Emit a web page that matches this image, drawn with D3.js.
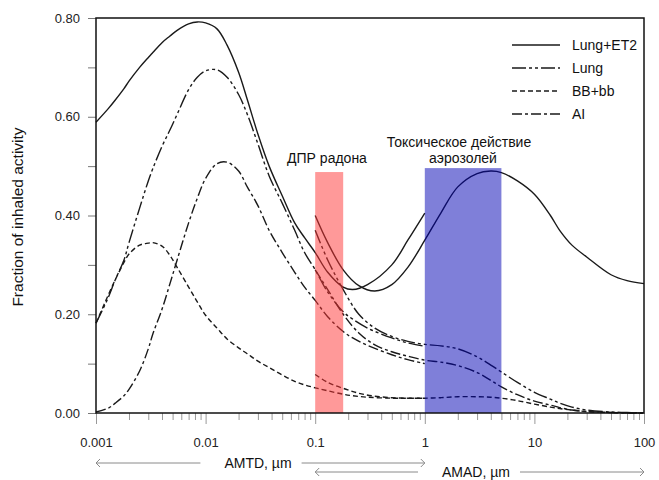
<!DOCTYPE html>
<html>
<head>
<meta charset="utf-8">
<script src="https://cdn.jsdelivr.net/npm/d3@7"></script>
<style>
  html, body { margin: 0; padding: 0; background: #fff; }
  svg { display: block; font-family: "Liberation Sans", Arial, sans-serif; }
</style>
</head>
<body>
<svg id="chart" width="659" height="480"></svg>
<script>
// Deposition fractions vs particle diameter (µm).
// AMTD curves: thermodynamic diameter range 0.001–1 µm.
const amtdDiam = [0.001, 0.0013, 0.0015, 0.0018, 0.002, 0.0025, 0.003, 0.0033, 0.004, 0.0047, 0.0055, 0.007, 0.0084, 0.01, 0.0127, 0.0157, 0.02, 0.024, 0.03, 0.038, 0.05, 0.065, 0.08, 0.1, 0.13, 0.18, 0.22, 0.3, 0.5, 0.7, 1.0];
const amtdLungET2 = [0.589, 0.617, 0.634, 0.657, 0.672, 0.70, 0.72, 0.73, 0.75, 0.763, 0.775, 0.788, 0.792, 0.79, 0.778, 0.745, 0.69, 0.635, 0.565, 0.50, 0.44, 0.385, 0.355, 0.325, 0.285, 0.255, 0.25, 0.26, 0.30, 0.35, 0.405];
const amtdLung    = [0.182, 0.235, 0.27, 0.31, 0.345, 0.415, 0.47, 0.495, 0.54, 0.572, 0.605, 0.655, 0.68, 0.693, 0.695, 0.68, 0.645, 0.605, 0.545, 0.48, 0.425, 0.37, 0.325, 0.29, 0.245, 0.205, 0.19, 0.172, 0.152, 0.142, 0.135];
const amtdBBbb    = [0.182, 0.24, 0.27, 0.305, 0.322, 0.34, 0.344, 0.345, 0.338, 0.32, 0.295, 0.255, 0.225, 0.198, 0.172, 0.15, 0.132, 0.12, 0.105, 0.092, 0.077, 0.064, 0.057, 0.051, 0.045, 0.038, 0.035, 0.032, 0.03, 0.03, 0.03];
const amtdAI      = [0.002, 0.01, 0.02, 0.035, 0.048, 0.085, 0.13, 0.16, 0.21, 0.26, 0.31, 0.385, 0.435, 0.475, 0.505, 0.508, 0.49, 0.458, 0.42, 0.37, 0.325, 0.285, 0.255, 0.228, 0.195, 0.165, 0.152, 0.137, 0.118, 0.108, 0.10];

// AMAD curves: aerodynamic diameter range 0.1–100 µm.
const amadDiam = [0.1, 0.13, 0.18, 0.25, 0.35, 0.5, 0.7, 1.0, 1.4, 2.0, 3.0, 4.0, 5.0, 7.0, 10, 14, 17, 22, 30, 50, 70, 100];
const amadLungET2 = [0.40, 0.345, 0.29, 0.258, 0.247, 0.26, 0.295, 0.35, 0.405, 0.458, 0.485, 0.49, 0.487, 0.47, 0.443, 0.40, 0.37, 0.34, 0.316, 0.28, 0.268, 0.262];
const amadLung    = [0.37, 0.31, 0.25, 0.20, 0.172, 0.155, 0.145, 0.139, 0.136, 0.13, 0.114, 0.097, 0.083, 0.062, 0.042, 0.028, 0.02, 0.012, 0.006, 0.002, 0.001, 0.0];
const amadBBbb    = [0.078, 0.062, 0.05, 0.04, 0.034, 0.031, 0.03, 0.03, 0.031, 0.033, 0.033, 0.032, 0.03, 0.025, 0.018, 0.012, 0.009, 0.006, 0.003, 0.001, 0.0, 0.0];
const amadAI      = [0.29, 0.25, 0.20, 0.162, 0.138, 0.124, 0.115, 0.107, 0.103, 0.096, 0.082, 0.066, 0.053, 0.037, 0.024, 0.016, 0.011, 0.006, 0.003, 0.001, 0.0, 0.0];

// Highlighted diameter bands: [from, to, height]
const bandRadon = [0.1, 0.18, 0.488];
const bandToxic = [1.0, 5.0, 0.496];

const seriesNames = ["Lung+ET2", "Lung", "BB+bb", "AI"];
const seriesDash  = [null, "14,3,3,3,3,3", "5,3", "10,3,3,3"];

const xTickLabels = ["0.001", "0.01", "0.1", "1", "10", "100"];
const yTickValues = [0, 0.1, 0.2, 0.3, 0.4, 0.5, 0.6, 0.7, 0.8];

const svg = d3.select("#chart");
const plotL = 96, plotR = 644, plotT = 18, plotB = 413;

const x = d3.scaleLog().domain([0.001, 100]).range([plotL, plotR]);
const y = d3.scaleLinear().domain([0, 0.8]).range([plotB, plotT]);

// Y axis
const yAxis = d3.axisLeft(y)
  .tickValues(yTickValues)
  .tickSize(8)
  .tickPadding(8)
  .tickFormat(v => (Math.round(v * 10) % 2 === 0) ? d3.format(".2f")(v) : "");
const gy = svg.append("g").attr("transform", `translate(${plotL},0)`).call(yAxis);
gy.select(".domain").remove();
gy.selectAll(".tick line").attr("stroke", "#777");
gy.selectAll(".tick text").attr("font-size", 13).attr("fill", "#222")
  .attr("font-family", "Liberation Sans, Arial, sans-serif");

// X axis with log minor ticks
const majors = xTickLabels.map(Number);
const minors = [];
majors.slice(0, -1).forEach(m => { for (let k = 2; k <= 9; k++) minors.push(m * k); });
const isMajor = v => majors.some(m => Math.abs(m - v) / m < 1e-9);
const xAxis = d3.axisBottom(x)
  .tickValues(majors.concat(minors))
  .tickSize(7)
  .tickPadding(0)
  .tickFormat(v => {
    const i = majors.findIndex(m => Math.abs(m - v) / m < 1e-9);
    return i >= 0 ? xTickLabels[i] : "";
  });
const gx = svg.append("g").attr("transform", `translate(0,${plotB})`).call(xAxis);
gx.select(".domain").remove();
gx.selectAll(".tick line").attr("stroke", "#999");
gx.selectAll(".tick").filter(d => isMajor(d)).select("line").attr("y2", 11);
gx.selectAll(".tick text").attr("font-size", 13).attr("fill", "#222")
  .attr("y", 25).attr("dy", "0.71em")
  .attr("font-family", "Liberation Sans, Arial, sans-serif");

// Curves
const line = d3.line()
  .x(d => x(d[0]))
  .y(d => y(d[1]))
  .curve(d3.curveCatmullRom.alpha(0.5));

const amtdSeries = [amtdLungET2, amtdLung, amtdBBbb, amtdAI];
const amadSeries = [amadLungET2, amadLung, amadBBbb, amadAI];
const curves = svg.append("g").attr("fill", "none").attr("stroke", "#1a1a1a").attr("stroke-width", 1.4);
amtdSeries.forEach((vals, i) => {
  curves.append("path")
    .attr("d", line(amtdDiam.map((d, j) => [d, vals[j]])))
    .attr("stroke-dasharray", seriesDash[i]);
});
amadSeries.forEach((vals, i) => {
  curves.append("path")
    .attr("d", line(amadDiam.map((d, j) => [d, vals[j]])))
    .attr("stroke-dasharray", seriesDash[i]);
});

// Highlight bands drawn translucent over the curves
svg.append("rect")
  .attr("x", x(bandRadon[0])).attr("width", x(bandRadon[1]) - x(bandRadon[0]))
  .attr("y", y(bandRadon[2])).attr("height", y(0) - y(bandRadon[2]))
  .attr("fill", "#ff3333").attr("fill-opacity", 0.5);
svg.append("rect")
  .attr("x", x(bandToxic[0])).attr("width", x(bandToxic[1]) - x(bandToxic[0]))
  .attr("y", y(bandToxic[2])).attr("height", y(0) - y(bandToxic[2]))
  .attr("fill", "#0000b4").attr("fill-opacity", 0.5);

// Plot frame
svg.append("rect")
  .attr("x", plotL).attr("y", plotT)
  .attr("width", plotR - plotL).attr("height", plotB - plotT)
  .attr("fill", "none").attr("stroke", "#111").attr("stroke-width", 1.5);

// Band titles
svg.append("text").attr("x", 327).attr("y", 163).attr("text-anchor", "middle")
  .attr("font-size", 14).attr("fill", "#111").text("ДПР радона");
svg.append("text").attr("x", 459).attr("y", 147).attr("text-anchor", "middle")
  .attr("font-size", 14).attr("fill", "#111").text("Токсическое действие");
svg.append("text").attr("x", 463).attr("y", 163).attr("text-anchor", "middle")
  .attr("font-size", 14).attr("fill", "#111").text("аэрозолей");

// Legend
const legend = svg.append("g");
seriesNames.forEach((name, i) => {
  const ly = 45 + i * 23;
  legend.append("line").attr("x1", 512).attr("x2", 560).attr("y1", ly).attr("y2", ly)
    .attr("stroke", "#1a1a1a").attr("stroke-width", 1.4)
    .attr("stroke-dasharray", seriesDash[i]);
  legend.append("text").attr("x", 572).attr("y", ly).attr("dy", "0.35em")
    .attr("font-size", 14).attr("fill", "#111").text(name);
});

// Y axis title
svg.append("text")
  .attr("transform", "translate(23,217) rotate(-90)")
  .attr("text-anchor", "middle").attr("font-size", 15.5).attr("fill", "#111")
  .text("Fraction of inhaled activity");

// Diameter range arrows below the axis
function rangeArrow(from, to, ly, label, cx) {
  const g = svg.append("g");
  const t = g.append("text").attr("x", cx).attr("y", ly).attr("dy", "0.35em")
    .attr("text-anchor", "middle").attr("font-size", 14).attr("fill", "#111").text(label);
  const bb = t.node().getBBox();
  const x0 = x(from), x1 = x(to);
  const stroke = "#8a8a8a";
  g.append("line").attr("x1", x0).attr("x2", bb.x - 24).attr("y1", ly).attr("y2", ly)
    .attr("stroke", stroke).attr("stroke-width", 1);
  g.append("line").attr("x1", bb.x + bb.width + 10).attr("x2", x1).attr("y1", ly).attr("y2", ly)
    .attr("stroke", stroke).attr("stroke-width", 1);
  g.append("path").attr("d", `M${x0 + 4},${ly - 4} L${x0},${ly} L${x0 + 4},${ly + 4}`)
    .attr("fill", "none").attr("stroke", stroke).attr("stroke-width", 1);
  g.append("path").attr("d", `M${x1 - 4},${ly - 4} L${x1},${ly} L${x1 - 4},${ly + 4}`)
    .attr("fill", "none").attr("stroke", stroke).attr("stroke-width", 1);
}
rangeArrow(0.001, 1, 463, "AMTD, µm", 258);
rangeArrow(0.1, 100, 472, "AMAD, µm", 476);
</script>
</body>
</html>
